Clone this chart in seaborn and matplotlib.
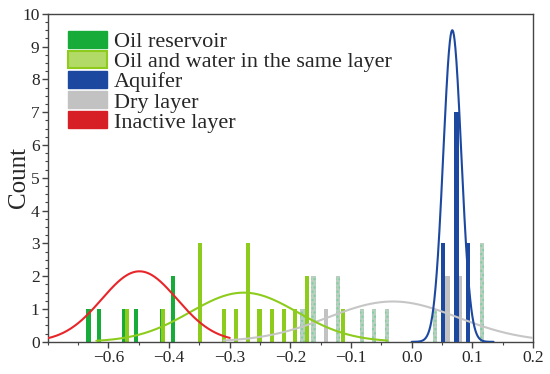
import numpy as np
import matplotlib
matplotlib.use("Agg")
import matplotlib.pyplot as plt
import seaborn as sns
from matplotlib.patches import Patch
from matplotlib.ticker import MultipleLocator

# bar positions and counts
oil_x = [-0.533, -0.515, -0.474, -0.454, -0.411, -0.393]
oil_h = [1, 1, 1, 1, 1, 2]

mixed_x = [-0.469, -0.410, -0.349, -0.310, -0.290, -0.270, -0.251, -0.231,
           -0.211, -0.192, -0.172, -0.113]
mixed_h = [1, 1, 3, 1, 1, 3, 1, 1, 1, 1, 2, 1]

aquifer_x = [0.052, 0.074, 0.093]
aquifer_h = [3, 7, 3]

dry_x = [-0.180, -0.162, -0.141, -0.121, -0.082, -0.062, -0.041, 0.038, 0.059, 0.079, 0.116]
dry_h = [1, 2, 1, 2, 1, 1, 1, 1, 2, 2, 3]
dry_dotted = [True, True, False, True, True, True, True, True, False, False, True]

# fitted normal curves: (centre, sd, peak height, x range)
inactive_fit = (-0.449, 0.062, 2.15, -0.60, -0.30)
mixed_fit = (-0.277, 0.088, 1.50, -0.52, -0.04)
dry_fit = (-0.031, 0.107, 1.23, -0.31, 0.20)
aquifer_fit = (0.067, 0.0148, 9.50, 0.00, 0.135)

tick_pos = [-0.5, -0.4, -0.3, -0.2, -0.1, 0.0, 0.1, 0.2]
tick_lab = ["\u22120.6", "\u22120.4", "\u22120.3", "\u22120.2", "\u22120.1", "0.0", "0.1", "0.2"]

sns.set_theme(style="ticks")
plt.rcParams["font.family"] = ["Liberation Serif", "DejaVu Serif"]

c_oil = "#17ab3a"
c_mixed = "#8dcc1c"
c_aq = "#1c48a0"
c_dry = "#c2c2c2"
c_red = "#e8262a"

fig = plt.figure(figsize=(5.5, 3.74), dpi=100)
ax = fig.add_axes([0.087, 0.086, 0.882, 0.877])

w = 0.0068
ax.bar(oil_x, oil_h, width=w, color=c_oil, linewidth=0, zorder=2)
ax.bar(mixed_x, mixed_h, width=w, color=c_mixed, linewidth=0, zorder=2)
for x, h, d in zip(dry_x, dry_h, dry_dotted):
    if d:
        ax.bar(x, h, width=w, color="#b9cfc2", edgecolor="#7fcf98", hatch="....",
               linewidth=0, zorder=2)
    else:
        ax.bar(x, h, width=w, color=c_dry, linewidth=0, zorder=2)
ax.bar(aquifer_x, aquifer_h, width=w, color=c_aq, linewidth=0, zorder=3)


def fit_curve(p):
    mu, sd, peak, lo, hi = p
    xs = np.linspace(lo, hi, 400)
    return xs, peak * np.exp(-(xs - mu) ** 2 / (2 * sd ** 2))


for p, c in [(dry_fit, "#c6c6c6"), (mixed_fit, c_mixed), (inactive_fit, c_red), (aquifer_fit, c_aq)]:
    xs, ys = fit_curve(p)
    sns.lineplot(x=xs, y=ys, ax=ax, color=c, linewidth=1.5, zorder=4)

ax.set_xlim(-0.6, 0.2)
ax.set_ylim(0, 10)
ax.set_xticks(tick_pos)
ax.set_xticklabels(tick_lab)
ax.xaxis.set_minor_locator(MultipleLocator(0.05))
ax.yaxis.set_major_locator(MultipleLocator(1))
ax.yaxis.set_minor_locator(MultipleLocator(0.25))
ax.tick_params(axis="both", which="major", labelsize=12.5, length=4, width=1, color="#444444", pad=2)
ax.tick_params(axis="both", which="minor", length=2.5, width=0.8, color="#444444")
for s in ax.spines.values():
    s.set_color("#444444")
    s.set_linewidth(1.0)
ax.set_ylabel("Count", fontsize=18)
ax.yaxis.set_label_coords(-0.037, 0.5)
ax.set_xlabel("")

handles = [
    Patch(facecolor=c_oil, edgecolor=c_oil, label="Oil reservoir"),
    Patch(facecolor="#b2da66", edgecolor=c_mixed, linewidth=1.5, label="Oil and water in the same layer"),
    Patch(facecolor=c_aq, edgecolor=c_aq, label="Aquifer"),
    Patch(facecolor=c_dry, edgecolor=c_dry, label="Dry layer"),
    Patch(facecolor="#d71f26", edgecolor="#d71f26", label="Inactive layer"),
]
ax.legend(handles=handles, loc="upper left", bbox_to_anchor=(0.01, 0.995), frameon=False, fontsize=16,
          handlelength=1.75, handleheight=0.8, labelspacing=-0.05,
          handletextpad=0.3, borderaxespad=0.4, borderpad=0.3)

fig.savefig("out.png", dpi=100)
